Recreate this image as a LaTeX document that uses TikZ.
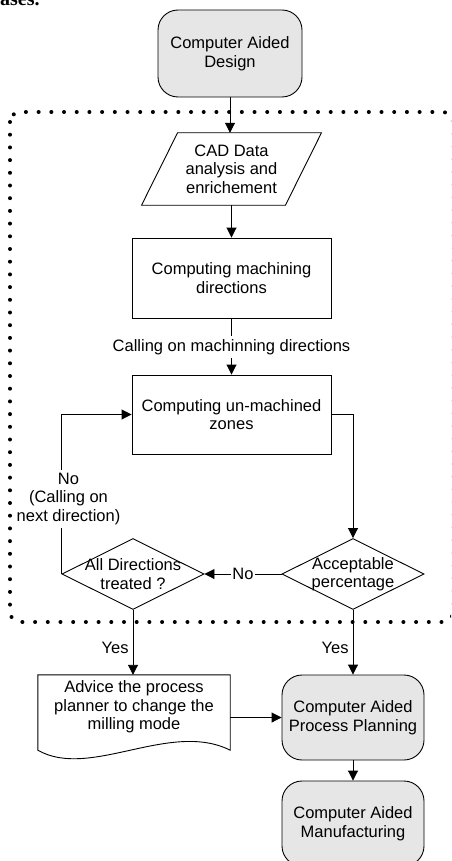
\documentclass[tikz,border=0pt]{standalone}
\usepackage{fontspec}
\setmainfont{Liberation Sans}
\newfontfamily\fragfont{Liberation Serif}
\usetikzlibrary{arrows.meta,shapes.geometric}
\definecolor{boxgray}{HTML}{E6E6E6}
\tikzset{
  txt/.style={font=\fontsize{16.5}{18.5}\selectfont, align=center},
  ln/.style={line width=0.9pt},
  arr/.style={ln, -{Triangle[length=10pt,width=10pt]}},
  base/.style={txt, ln, draw=black, inner sep=0pt},
  rbox/.style={base, rounded corners=20pt, fill=boxgray, minimum width=142pt, minimum height=85pt},
  pbox/.style={base, rectangle, minimum width=199pt, minimum height=80pt},
  decision/.style={base, diamond, minimum width=142pt, minimum height=71pt},
  dotborder/.style={line width=4pt, dash pattern=on 0pt off 12.7pt, line cap=round},
}

\begin{document}
\begin{tikzpicture}[x=1pt, y=-1pt]
        \useasboundingbox (0,0) rectangle (451,861);
        \clip (0,0) rectangle (451,861);
        % cut line of the page text above
        \node (frag) [anchor=base west, inner sep=0pt, font=\fragfont\bfseries\fontsize{20}{22}\selectfont] at (0,6) {ases.};
        % dotted frame round the analysis part
        \draw[dotborder, rounded corners=10pt] (10,112) rectangle (453,622);
        % boxes
        \node (cad) [rbox, minimum width=144pt, minimum height=87pt] at (230,53.5) {Computer Aided\\Design};
        \node (data) [txt, inner sep=0pt, minimum width=143.5pt, minimum height=72pt] at (231.5,169) {CAD Data\\analysis and\\enrichement};
        \draw[ln] ([xshift=18pt]data.north west) -- ([xshift=18pt]data.north east) -- ([xshift=-18pt]data.south east) -- ([xshift=-18pt]data.south west) -- cycle;
        \node (mdir) [pbox] at (231.5,278) {Computing machining\\directions};
        \node (calling) [txt, inner sep=3pt] at (231.5,347) {Calling on machinning directions};
        \node (umz) [pbox, minimum height=79pt] at (231.5,414.5) {Computing un-machined\\zones};
        \node (accept) [decision, label={[txt]center:Acceptable\\percentage}] at (353,574) {};
        \node (alldir) [decision, label={[txt]center:All Directions\\treated ?}] at (133,574) {};
        \node (nolbl) [txt, inner sep=3pt] at (68.5,499) {No\\(Calling on\\next direction)};
        \node (doc) [txt, inner sep=0pt, minimum width=192pt, minimum height=64pt] at (134,707) {Advice the process\\planner to change the\\milling mode};
        \draw[ln] (doc.north west) -- (doc.north east) -- ([yshift=-11pt]doc.south east) .. controls (170,720) and (90,780) .. ([yshift=-11pt]doc.south west) -- cycle;
        \node (capp) [rbox] at (353,717.5) {Computer Aided\\Process Planning};
        \node (cam) [rbox] at (353,823.5) {Computer Aided\\Manufacturing};
        % connectors
        \draw[arr] (cad.south) -- (cad.south |- data.north);
        \draw[arr] (data.south) -- (mdir.north);
        \draw[ln] (mdir.south) -- (calling.north);
        \draw[arr] (calling.south) -- (umz.north);
        \draw[arr] (umz.east) -| (accept.north);
        \draw[arr] (accept.west) -- node[txt, fill=white, inner sep=1pt] {No} (alldir.east);
        \draw[ln] (alldir.west) -- (alldir.west |- nolbl.south);
        \draw[arr] (alldir.west |- nolbl.north) |- (umz.west);
        \draw[arr] (alldir.south) -- node[txt, pos=0.58, left, inner sep=4pt] {Yes} (doc.north -| alldir.south);
        \draw[arr] (accept.south) -- node[txt, pos=0.58, left, inner sep=4pt] {Yes} (capp.north);
        \draw[arr] (doc.east |- capp.west) -- (capp.west);
        \draw[arr] (capp.south) -- (cam.north);
    \end{tikzpicture}
\end{document}
